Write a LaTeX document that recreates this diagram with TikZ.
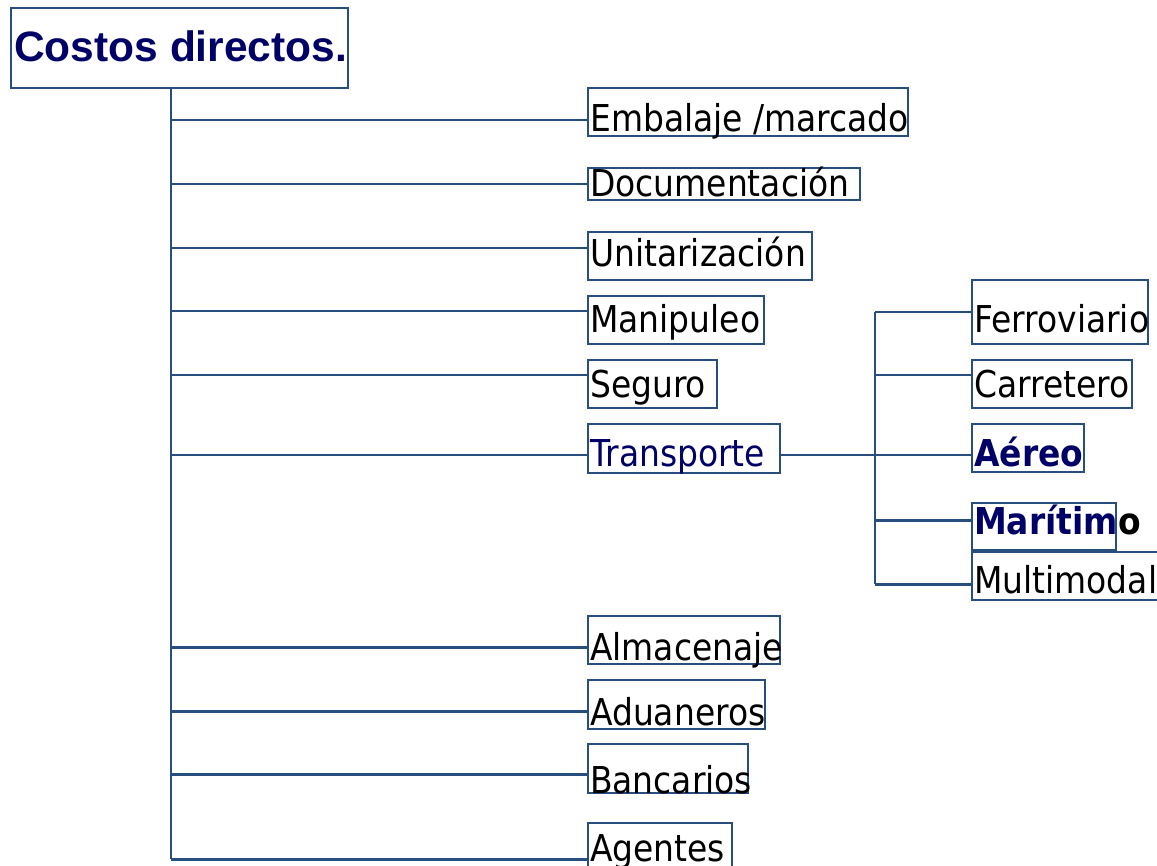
\documentclass[tikz,border=0pt]{standalone}
\usepackage{fontspec}
\setmainfont{Liberation Sans}
\newfontfamily\tah[FakeStretch=0.89]{DejaVu Sans}
\newfontfamily\arb{Liberation Sans}
\definecolor{lc}{RGB}{40,78,128}
\definecolor{navy}{RGB}{0,0,102}
\tikzset{
  box/.style={draw=lc, line width=2.4pt, rectangle, inner sep=0pt, anchor=north west},
  conn/.style={draw=lc, line width=2.6pt},
  txt/.style={anchor=base west, inner sep=0pt, font=\tah\fontsize{37}{41}\selectfont},
  btxt/.style={txt, font=\tah\bfseries\fontsize{37}{41}\selectfont, text=navy},
}
\begin{document}
\begin{tikzpicture}[x=1pt,y=-1pt]
\clip (0,0) rectangle (1157,866);
\fill[white] (0,0) rectangle (1157,866);
% title
\node[box, minimum width=337pt, minimum height=80pt] (title) at (10,7) {};
\node[anchor=base west, inner sep=0pt, font=\arb\bfseries\fontsize{42.5}{46}\selectfont, text=navy] (titleT) at (14,62) {Costos directos.};
% trunk position
\coordinate (tx) at (171,0);
\coordinate (sx) at (875,0);
% main boxes
\node[box, minimum width=320pt, minimum height=48pt] (emb) at (587,87) {};
\node[box, minimum width=272pt, minimum height=32pt] (doc) at (587,167) {};
\node[box, minimum width=224pt, minimum height=48pt] (uni) at (587,231) {};
\node[box, minimum width=176pt, minimum height=48pt] (man) at (587,295) {};
\node[box, minimum width=129pt, minimum height=48pt] (seg) at (587,359) {};
\node[box, minimum width=192pt, minimum height=49pt] (tra) at (587,423) {};
\node[box, minimum width=192pt, minimum height=48pt] (alm) at (587,615) {};
\node[box, minimum width=177pt, minimum height=49pt] (adu) at (587,679) {};
\node[box, minimum width=160pt, minimum height=49pt] (ban) at (587,743) {};
\node[box, minimum width=144pt, minimum height=60pt] (age) at (587,822) {};
% sub boxes
\node[box, minimum width=176pt, minimum height=64pt] (fer) at (971,279) {};
\node[box, minimum width=160pt, minimum height=48pt] (car) at (971,359) {};
\node[box, minimum width=112pt, minimum height=48pt] (aer) at (971,423) {};
\node[box, minimum width=144pt, minimum height=47pt] (mar) at (971,502) {};
\node[box, minimum width=200pt, minimum height=48pt] (mul) at (971,551) {};
% texts
\node[txt] (embT) at (590,132) {Embalaje /marcado};
\node[txt] (docT) at (590,197) {Documentación};
\node[txt] (uniT) at (590,267) {Unitarización};
\node[txt] (manT) at (590,333) {Manipuleo};
\node[txt] (segT) at (590,398) {Seguro};
\node[txt, text=navy] (traT) at (590,467) {Transporte};
\node[txt] (almT) at (590,660) {Almacenaje};
\node[txt] (aduT) at (590,725) {Aduaneros};
\node[txt] (banT) at (590,793) {Bancarios};
\node[txt] (ageT) at (590,861) {Agentes};
\node[txt] (ferT) at (974,333) {Ferroviario};
\node[txt] (carT) at (974,398) {Carretero};
\node[btxt] (aerT) at (974,467) {Aéreo};
\node[btxt] (marT) at (974,534) {Marítim\textcolor{black}{o}};
\node[txt] (mulT) at (974,593) {Multimodal};
% connectors main
\foreach \n/\s in {emb/-8, doc/0, uni/8, man/9, seg/9, tra/-6.5, alm/-7, adu/-6.5, ban/-5.5, age/-6}
  \draw[conn] ([yshift=\s pt]\n.west) coordinate (p) -- (tx |- p);
\draw[conn] ([yshift=-6pt]age.west) coordinate (pa) (tx |- title.south) -- (tx |- pa);
% transport subtree
\draw[conn] ([yshift=-6.5pt]tra.east) coordinate (pt) -- (sx |- pt);
\foreach \n/\s in {fer/0, car/9, aer/-7, mar/6.5, mul/-8}
  \draw[conn] ([yshift=\s pt]\n.west) coordinate (p) -- (sx |- p);
\draw[conn] (fer.west) coordinate (pf) ([yshift=-8pt]mul.west) coordinate (pm) (sx |- pf) -- (sx |- pm);
\end{tikzpicture}
\end{document}
